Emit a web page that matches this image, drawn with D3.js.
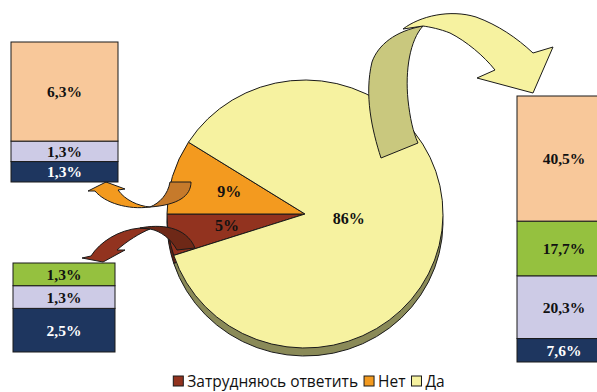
<!DOCTYPE html>
<html>
<head>
<meta charset="utf-8">
<script src="https://cdn.jsdelivr.net/npm/d3@7"></script>
<style>
  html, body { margin: 0; padding: 0; background: #fff; }
  svg { display: block; }
</style>
</head>
<body>
<script>
// Answer shares shown in the pie (percent)
const categories = ["Затрудняюсь ответить", "Нет", "Да"];
const shares = [5, 9, 86];

// Breakdown bars, listed bottom to top (percent of all respondents)
const barNoValues = [1.3, 1.3, 6.3];
const barNoKinds = ["navy", "lavender", "peach"];
const barUnsureValues = [2.5, 1.3, 1.3];
const barUnsureKinds = ["navy", "lavender", "green"];
const barYesValues = [7.6, 20.3, 17.7, 40.5];
const barYesKinds = ["navy", "lavender", "green", "peach"];

const W = 597, H = 392;
const pieColors = ["#92331F", "#F39A1F", "#F6F2A0"];
const sideColors = ["#5E2012", "#A86514", "#8A8A58"];
const segColors = { navy: "#1E365F", lavender: "#CDCBE6", green: "#95C13F", peach: "#F8C89A" };
const segText = { navy: "#ffffff", lavender: "#111", green: "#111", peach: "#111" };
const outline = "#1a1a1a";
const labelFont = "'Liberation Serif', 'Times New Roman', serif";

const ru = d3.formatLocale({ decimal: ",", thousands: " ", grouping: [3], currency: ["", ""] });
const fmt1 = ru.format(".1f");

const svg = d3.select("body").append("svg").attr("width", W).attr("height", H);

// ---- Pie (flattened disc with a thin rim) ----
const cx = 305, cy = 214, rx = 138, ry = 134, depth = 8;
const k = ry / rx;
const pie = d3.pie().sort(null).value(d => d)
  .startAngle(1.4 * Math.PI).endAngle(3.4 * Math.PI);
const arcs = pie(shares);
const arc = d3.arc().innerRadius(0).outerRadius(rx);

const pieSide = svg.append("g").attr("transform", `translate(${cx},${cy + depth}) scale(1,${k})`);
pieSide.selectAll("path").data(arcs).join("path")
  .attr("d", arc)
  .attr("fill", (d, i) => sideColors[i])
  .attr("stroke", outline).attr("stroke-width", 1)
  .attr("vector-effect", "non-scaling-stroke");

const pieFace = svg.append("g").attr("transform", `translate(${cx},${cy}) scale(1,${k})`);
pieFace.selectAll("path").data(arcs).join("path")
  .attr("d", arc)
  .attr("fill", (d, i) => pieColors[i])
  .attr("stroke", outline).attr("stroke-width", 1)
  .attr("vector-effect", "non-scaling-stroke");

// ---- Curved ribbon arrows from the slices to their breakdown bars ----
const arrows = svg.append("g").attr("stroke", outline).attr("stroke-width", 1).attr("stroke-linejoin", "round");
// "Да" arrow: back face rising from the disc, front face ending in the head
arrows.append("path").attr("fill", "#C9C87E")
  .attr("d", "M381,158 C372,130 364,95 372,62 C378,45 395,31 423,26 C410,40 405,70 408,100 C410,118 413,132 418,143 Z");
arrows.append("path").attr("fill", "#F6F2A0")
  .attr("d", "M403,29 C420,16 450,9 476,17 C498,25 517,38 533,53 L553,47 L533,93 L477,78 L495,70 C484,56 466,41 450,33 C440,29 430,27 423,26 Z");
// "Нет" arrow
arrows.append("path").attr("fill", "#F39A1F")
  .attr("d", "M150,207 C128,210 105,203 95,191 L88,191 L106,182 L125,189 L118,190 C125,200 138,206 150,207 Z");
arrows.append("path").attr("fill", "#C67A2B")
  .attr("d", "M170,182 L191,182 C191,196 178,205 150,207 C160,203 168,194 170,182 Z");
// "Затрудняюсь ответить" arrow
arrows.append("path").attr("fill", "#92331F")
  .attr("d", "M91,256 C100,242 118,230 140,228 L150,229 C140,233 127,241 117,250 L125,250 L103,262 L82,258 Z");
arrows.append("path").attr("fill", "#6E2817")
  .attr("d", "M140,228 C160,224 186,226 195,248 L177,250 C171,239 161,231 150,229 Z");

// Slice labels
const labelRadius = d => d.value > 50 ? 44 : 79;
svg.append("g").selectAll("text").data(arcs).join("text")
  .attr("transform", d => {
    const r = labelRadius(d);
    const c = d3.arc().innerRadius(r).outerRadius(r).centroid(d);
    return `translate(${cx + c[0]},${cy + c[1] * k - 1})`;
  })
  .attr("text-anchor", "middle").attr("dominant-baseline", "central")
  .attr("font-family", labelFont).attr("font-weight", "bold").attr("font-size", 16)
  .attr("fill", "#111")
  .text(d => d.value + "%");

// ---- Stacked breakdown bars ----
function drawBar(values, kinds, x0, x1, yBottom, yTop) {
  const total = d3.sum(values);
  const y = d3.scaleLinear().domain([0, total]).range([yBottom, yTop]);
  const x = d3.scaleLinear().domain([0, 1]).range([x0, x1]);
  let acc = 0;
  const segs = values.map((v, i) => {
    const s = { v, kind: kinds[i], lo: acc, hi: acc + v };
    acc += v;
    return s;
  });
  const g = svg.append("g");
  g.selectAll("rect").data(segs).join("rect")
    .attr("x", x(0)).attr("width", x(1) - x(0))
    .attr("y", d => y(d.hi)).attr("height", d => y(d.lo) - y(d.hi))
    .attr("fill", d => segColors[d.kind])
    .attr("stroke", outline).attr("stroke-width", 1);
  g.selectAll("text").data(segs).join("text")
    .attr("x", x(0.5)).attr("y", d => y((d.lo + d.hi) / 2))
    .attr("text-anchor", "middle").attr("dominant-baseline", "central")
    .attr("font-family", labelFont).attr("font-weight", "bold").attr("font-size", 15.5)
    .attr("fill", d => segText[d.kind])
    .text(d => fmt1(d.v) + "%");
}
drawBar(barNoValues, barNoKinds, 11, 118, 182, 42);
drawBar(barUnsureValues, barUnsureKinds, 13, 115, 352, 263);
drawBar(barYesValues, barYesKinds, 517, 611, 362, 96);

// ---- Legend ----
const legend = svg.append("g");
const items = categories.map((c, i) => ({ name: c, color: pieColors[i] }));
const legendFont = "'Open Sans', 'Noto Sans', sans-serif";
const sq = 10, gapText = 4, gapItem = 6, legendY = 381;
const nodes = items.map(it => {
  const g = legend.append("g");
  g.append("rect").attr("width", sq).attr("height", sq).attr("y", legendY - sq / 2)
    .attr("fill", it.color).attr("stroke", outline).attr("stroke-width", 1);
  const t = g.append("text").attr("x", sq + gapText).attr("y", legendY)
    .attr("dominant-baseline", "central")
    .attr("font-family", legendFont).attr("font-size", 15.5).attr("fill", "#111")
    .text(it.name);
  return { g, w: sq + gapText + t.node().getComputedTextLength() };
});
const totalW = d3.sum(nodes, n => n.w) + gapItem * (nodes.length - 1);
let lx = 309 - totalW / 2;
nodes.forEach(n => { n.g.attr("transform", `translate(${lx},0)`); lx += n.w + gapItem; });
</script>
</body>
</html>
